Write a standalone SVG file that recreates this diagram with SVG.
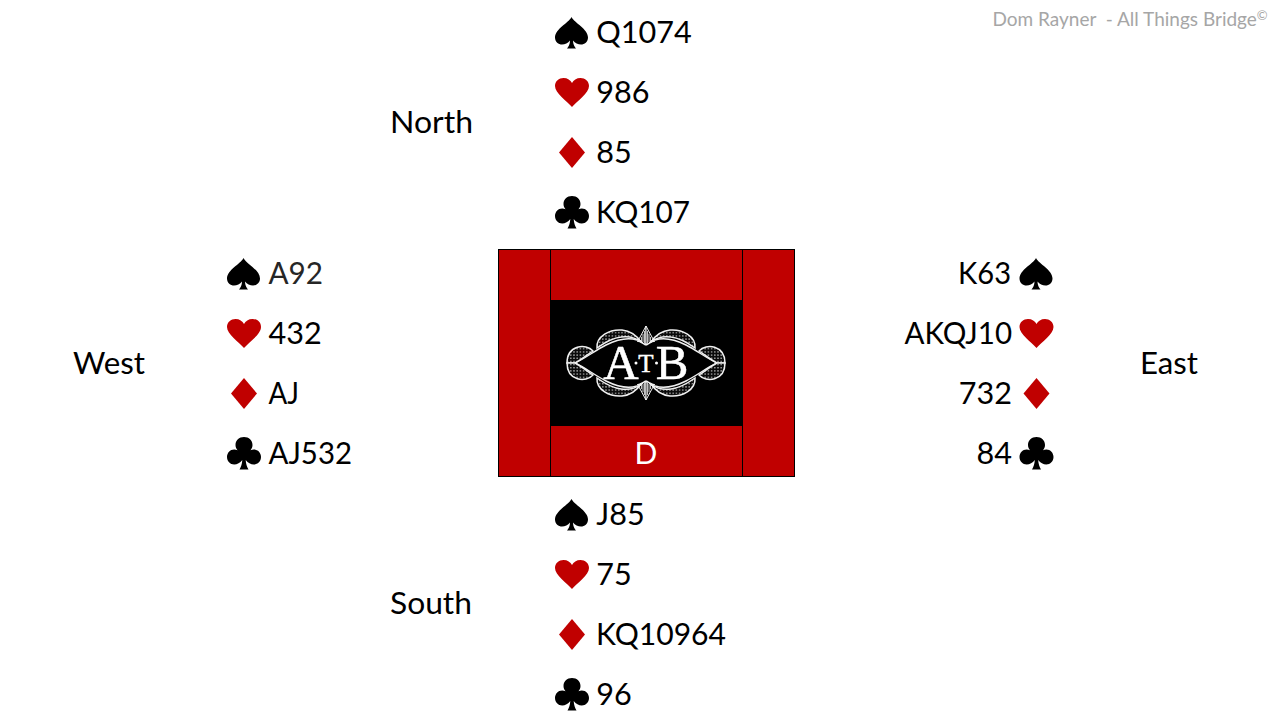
<svg xmlns="http://www.w3.org/2000/svg" xmlns:xlink="http://www.w3.org/1999/xlink" width="1280" height="720" viewBox="0 0 1280 720">
<style>
text{font-family:"Lato","Open Sans","Liberation Sans",sans-serif;font-size:30.6px;fill:#000}
.e{text-anchor:end}
.dim{fill:#262626}
.r{fill:#c00000}
.k{fill:#000}
.logo{font-family:"Liberation Serif",serif;fill:#fff;stroke:#fff;stroke-width:.5;text-anchor:middle}
.ln{fill:none;stroke:#f0f0f0;stroke-width:1.4}
.lobe{fill:url(#dots);stroke:#f0f0f0;stroke-width:1.5}
</style>
<defs>
<pattern id="dots" width="3.200" height="3.200" patternUnits="userSpaceOnUse"><rect width="3.200" height="3.200" fill="#0a0a0a"/><circle cx="1.600" cy="1.600" r=".7" fill="#ddd"/></pattern>
<path id="S" d="M0,-16C3,-10 16.500,-4 16.500,4.500C16.500,9 13,11.500 9.500,11.500C6.500,11.500 3.500,10 1.500,7.500C1.500,11 3,14 4.500,15.500L-4.500,15.500C-3,14 -1.500,11 -1.500,7.500C-3.500,10 -6.500,11.500 -9.500,11.500C-13,11.500 -16.500,9 -16.500,4.500C-16.500,-4 -3,-10 0,-16Z"/>
<path id="H" d="M0,14.500C-5,8.500 -17,1 -17,-6.500C-17,-11.500 -13,-14.500 -8.500,-14.500C-4.500,-14.500 -1.500,-12.500 0,-9.500C1.500,-12.500 4.500,-14.500 8.500,-14.500C13,-14.500 17,-11.500 17,-6.500C17,1 5,8.500 0,14.500Z"/>
<path id="D" d="M0,-15.500L13,0L0,15.500L-13,0Z"/>
<path id="C" d="M0,-17C5,-17 8.500,-13.500 8.500,-9C8.500,-7 7.800,-5.500 6.500,-3.800C7.500,-4.300 8.700,-4.600 9.800,-4.600C14,-4.600 17,-1.200 17,3C17,7.300 13.800,10.500 9.800,10.500C6.700,10.500 4,8.800 1.700,6C1.900,9.800 3,13 4.500,15.500L-4.500,15.500C-3,13 -1.900,9.800 -1.700,6C-4,8.800 -6.700,10.500 -9.800,10.500C-13.800,10.500 -17,7.300 -17,3C-17,-1.200 -14,-4.600 -9.800,-4.600C-8.700,-4.600 -7.500,-4.300 -6.500,-3.800C-7.800,-5.500 -8.500,-7 -8.500,-9C-8.500,-13.500 -5,-17 0,-17Z"/>
<g id="q">
<path class="ln" d="M-71,0C-62,-4 -50,-13 -40,-18C-30,-23 -18,-26 -9,-23"/>
<path class="lobe" d="M-53,-12C-60,-20 -79,-18 -79,0L-71,0C-65,-3 -59,-8 -53,-12Z"/>
<path class="lobe" d="M-49,-15C-50,-27 -36,-34 -24,-33C-14,-32 -9,-27 -5,-21C-10,-25 -18,-27 -25,-26C-34,-25 -42,-20 -49,-15Z"/>
<path d="M0,-37L-7,-24L-2,-19L0,-19Z" fill="#111" stroke="#f0f0f0" stroke-width="1"/>
<path d="M-1.500,-32V-20M-3,-29V-21M-4.500,-26V-22" stroke="#f0f0f0" stroke-width=".8" fill="none"/>
<path class="ln" d="M-9,-22C-6,-22 -3,-19.500 0,-18"/>
</g>
</defs>

<g id="credit"><text x="992.500" y="26" style="font-size:19px;fill:#a6a6a6" xml:space="preserve">Dom Rayner  - All Things Bridge<tspan dy="-6" style="font-size:13px">©</tspan></text></g>

<g id="north">
<text x="390" y="133" textLength="83" lengthAdjust="spacingAndGlyphs">North</text>
<use xlink:href="#S" href="#S" x="571.500" y="33" class="k"/><text x="596.300" y="43" textLength="95.500" lengthAdjust="spacingAndGlyphs">Q1074</text>
<use xlink:href="#H" href="#H" x="572" y="92.500" class="r"/><text x="596.300" y="103">986</text>
<use xlink:href="#D" href="#D" x="572" y="152.500" class="r"/><text x="596.300" y="163">85</text>
<use xlink:href="#C" href="#C" x="572" y="213" class="k"/><text x="596" y="223" textLength="94" lengthAdjust="spacingAndGlyphs">KQ107</text>
</g>

<g id="west">
<text x="73" y="374" textLength="72" lengthAdjust="spacingAndGlyphs">West</text>
<use xlink:href="#S" href="#S" x="243.500" y="274" class="k"/><text x="268.500" y="284" class="dim" textLength="54.500" lengthAdjust="spacingAndGlyphs">A92</text>
<use xlink:href="#H" href="#H" x="244" y="333.500" class="r"/><text x="268.500" y="344">432</text>
<use xlink:href="#D" href="#D" x="244" y="393.500" class="r"/><text x="268.500" y="404" textLength="30.500" lengthAdjust="spacingAndGlyphs">AJ</text>
<use xlink:href="#C" href="#C" x="244" y="454" class="k"/><text x="268.500" y="464" textLength="83.500" lengthAdjust="spacingAndGlyphs">AJ532</text>
</g>

<g id="east">
<text x="1140" y="374" textLength="58" lengthAdjust="spacingAndGlyphs">East</text>
<use xlink:href="#S" href="#S" x="1036" y="274" class="k"/><text x="958" y="284" textLength="53" lengthAdjust="spacingAndGlyphs">K63</text>
<use xlink:href="#H" href="#H" x="1036.500" y="333.500" class="r"/><text x="904.500" y="344" textLength="107.500" lengthAdjust="spacingAndGlyphs">AKQJ10</text>
<use xlink:href="#D" href="#D" x="1036.500" y="393.500" class="r"/><text x="1012" y="404" class="e">732</text>
<use xlink:href="#C" href="#C" x="1036.500" y="454" class="k"/><text x="1012" y="464" class="e">84</text>
</g>

<g id="south">
<text x="390" y="614" textLength="82" lengthAdjust="spacingAndGlyphs">South</text>
<use xlink:href="#S" href="#S" x="571.500" y="515" class="k"/><text x="596.300" y="525">J85</text>
<use xlink:href="#H" href="#H" x="572" y="574.500" class="r"/><text x="596.300" y="585">75</text>
<use xlink:href="#D" href="#D" x="572" y="634.500" class="r"/><text x="596" y="645" textLength="130" lengthAdjust="spacingAndGlyphs">KQ10964</text>
<use xlink:href="#C" href="#C" x="572" y="695" class="k"/><text x="596.300" y="705">96</text>
</g>

<g id="table">
<rect x="498.500" y="249.500" width="296" height="227" fill="#c00000" stroke="#000" stroke-width="1"/>
<path d="M550.500,250V476M742.500,250V476" stroke="#000" stroke-width="1" fill="none"/>
<rect x="551" y="300" width="192" height="126" fill="#000"/>
<text x="646" y="464" style="font-size:30px;fill:#fff;text-anchor:middle">D</text>
</g>

<g id="logo" transform="translate(646,363)">
<use xlink:href="#q" href="#q"/>
<use xlink:href="#q" href="#q" transform="scale(-1,1)"/>
<use xlink:href="#q" href="#q" transform="scale(1,-1)"/>
<use xlink:href="#q" href="#q" transform="scale(-1,-1)"/>
<text class="logo" x="-25" y="16" style="font-size:49px">A</text>
<text class="logo" x="0" y="9" style="font-size:25px">T</text>
<text class="logo" x="26" y="16" style="font-size:49px">B</text>
<circle cx="-10" cy="0" r="1.500" fill="#fff"/>
<circle cx="10.500" cy="0" r="1.500" fill="#fff"/>
</g>
</svg>
